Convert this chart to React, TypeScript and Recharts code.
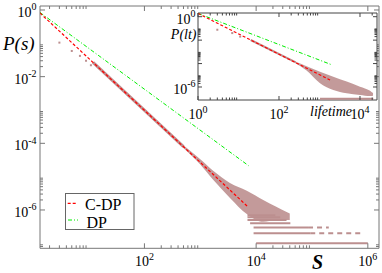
import React from 'react';
import { ComposedChart, Line, Area, Scatter, XAxis, YAxis, ReferenceArea } from 'recharts';

const FONT = '"Liberation Serif", "Times New Roman", Times, serif';
const W = 382;
const H = 273;

// ---------- main chart ticks ----------
const mainXMajor = [100, 10000, 1000000];
const mainXMajorLabels = ['2', '4', '6'];
const mainXMinor = [2, 3, 4, 5, 6, 7, 8, 9, 200, 300, 400, 500, 600, 700, 800, 900, 20000, 30000, 40000, 50000, 60000, 70000, 80000, 90000];
const mainYMajor = [1, 0.01, 0.0001, 0.000001];
const mainYMajorLabels = ['0', '-2', '-4', '-6'];
const mainYMinor = [0.02, 0.03, 0.04, 0.05, 0.06, 0.07, 0.08, 0.09, 0.0002, 0.0003, 0.0004, 0.0005, 0.0006, 0.0007, 0.0008, 0.0009, 0.000002, 0.000003, 0.000004, 0.000005, 0.000006, 0.000007, 0.000008, 0.000009, 0.00000008, 0.00000009];
const mainXDomain = [1.349, 1585000];
const mainYDomain = [7.08e-8, 1.318];

// ---------- main chart series ----------
const cdpMain = [{ x: 1.35, y: 0.81 }, { x: 7300, y: 1.2e-6 }];
const dpMain = [{ x: 1.35, y: 0.84 }, { x: 7300, y: 2.14e-5 }];
const rawMainOutliers = [{ x: 3, y: 0.105 }, { x: 5, y: 0.059 }, { x: 7, y: 0.042 }, { x: 9, y: 0.03 }, { x: 11, y: 0.022 }];
const rawMainThin = [{ x: 12, y: 0.0269 }, { x: 500, y: 8.0e-5 }];
const rawMainCloud = [
  { x: 480, y: [7.6e-5, 9.2e-5] },
  { x: 1000, y: [2.3e-5, 3.3e-5] },
  { x: 1700, y: [8.0e-6, 1.5e-5] },
  { x: 3400, y: [2.3e-6, 6.5e-6] },
  { x: 6800, y: [7.6e-7, 3.8e-6] },
  { x: 13400, y: [4.4e-7, 2.0e-6] },
  { x: 22000, y: [5.0e-7, 1.3e-6] },
  { x: 40000, y: [5.0e-7, 7.9e-7] },
];
const mainTailLevels = [1e-7, 2e-7, 3e-7, 4e-7, 5e-7, 6e-7, 7e-7];
const mainTailStart = [10000, 9000, 9000, 7800, 7000, 7000, 7000];
const mainTailEnd = [1000000, 93000, 85000, 41000, 35000, 27000, 22000];
const mainTailDashEnd = [0, 780000, 200000, 0, 0, 0, 0];

// ---------- inset ticks ----------
const insetXMajor = [1, 100, 10000];
const insetXMajorLabels = ['0', '2', '4'];
const insetXMinor = [2, 3, 4, 5, 6, 7, 8, 9, 200, 300, 400, 500, 600, 700, 800, 900, 20000];
const insetYMajor = [1, 0.01, 0.0001, 0.000001];
const insetYMajorLabels = ['0', '', '', '-6'];
const insetYMinor = [0.02, 0.03, 0.04, 0.05, 0.06, 0.07, 0.08, 0.09, 0.0002, 0.0003, 0.0004, 0.0005, 0.0006, 0.0007, 0.0008, 0.0009, 0.000002, 0.000003, 0.000004, 0.000005, 0.000006, 0.000007, 0.000008, 0.000009];
const insetXDomain = [1, 26300];
const insetYDomain = [7.76e-8, 2.07];

// ---------- inset series ----------
const cdpInset = [{ x: 1, y: 1.9 }, { x: 1820, y: 4.0e-6 }];
const dpInset = [{ x: 1, y: 1.9 }, { x: 2040, y: 7.7e-5 }];
const rawInsetOutliers = [{ x: 3, y: 0.077 }, { x: 7, y: 0.04 }, { x: 11, y: 0.02 }];
const rawInsetThin = [{ x: 20, y: 0.0103 }, { x: 260, y: 1.25e-4 }];
const rawInsetCloud = [
  { x: 250, y: [1.1e-4, 1.5e-4] },
  { x: 480, y: [2.5e-5, 6.0e-5] },
  { x: 1030, y: [2.1e-6, 2.0e-5] },
  { x: 2190, y: [5.5e-7, 7.6e-6] },
  { x: 4700, y: [2.9e-7, 2.9e-6] },
  { x: 10000, y: [2.1e-7, 1.07e-6] },
  { x: 17700, y: [1.7e-7, 4.8e-7] },
  { x: 21000, y: [1.8e-7, 3.0e-7] },
];
const insetTailLevel = 1e-7;
const insetTailStart = 1030;
const insetTailEnd = 21300;

const legendNames = ['C-DP', 'DP'];

const RAW = '#bc8f8f';
const RED = '#ff0000';
const GREEN = '#00ee00';

type TickCfg = {
  majors: number[];
  labels: string[];
  far: number;
  majorLen: number;
  minorLen: number;
  stroke: string;
  fontSize: number;
  supSize: number;
  supDy: number;
  labelDx: number;
  labelDy: number;
};

function makeXTick(cfg: TickCfg) {
  return (props: any) => {
    const { x, y, payload } = props;
    const mi = cfg.majors.indexOf(payload.value);
    const len = mi >= 0 ? cfg.majorLen : cfg.minorLen;
    return (
      <g>
        <line x1={x} x2={x} y1={y} y2={y - len} stroke={cfg.stroke} strokeWidth={1} />
        <line x1={x} x2={x} y1={cfg.far} y2={cfg.far + len} stroke={cfg.stroke} strokeWidth={1} />
        {mi >= 0 && cfg.labels[mi] ? (
          <text x={x + cfg.labelDx} y={y + cfg.labelDy} textAnchor="middle" fontFamily={FONT} fontSize={cfg.fontSize} fill="#000">
            10<tspan fontSize={cfg.supSize} dy={cfg.supDy}>{cfg.labels[mi]}</tspan>
          </text>
        ) : null}
      </g>
    );
  };
}

function makeYTick(cfg: TickCfg) {
  return (props: any) => {
    const { x, y, payload } = props;
    const mi = cfg.majors.indexOf(payload.value);
    const len = mi >= 0 ? cfg.majorLen : cfg.minorLen;
    return (
      <g>
        <line x1={x} x2={x + len} y1={y} y2={y} stroke={cfg.stroke} strokeWidth={1} />
        <line x1={cfg.far} x2={cfg.far - len} y1={y} y2={y} stroke={cfg.stroke} strokeWidth={1} />
        {mi >= 0 && cfg.labels[mi] ? (
          <text x={x + cfg.labelDx} y={y + cfg.labelDy} textAnchor="end" fontFamily={FONT} fontSize={cfg.fontSize} fill="#000">
            10<tspan fontSize={cfg.supSize} dy={cfg.supDy}>{cfg.labels[mi]}</tspan>
          </text>
        ) : null}
      </g>
    );
  };
}

const dot = (size: number) => (props: any) => {
  const { cx, cy } = props;
  if (cx == null || cy == null) return <g />;
  return <rect x={cx - size / 2} y={cy - size / 2} width={size} height={size} fill={RAW} />;
};

// plot geometry (axes occupy 1px, so margins are 1px smaller)
const M = { left: 39, top: 6, right: 3, bottom: 23.7 };
const I = { left: 197, top: 13, right: 5, bottom: 172 };
const MAIN_RIGHT = W - M.right;
const INSET_RIGHT = W - I.right;

export default function App() {
  const mainXTicks = [...mainXMinor, ...mainXMajor];
  const mainYTicks = [...mainYMinor, ...mainYMajor];
  const insetXTicks = [...insetXMinor, ...insetXMajor];
  const insetYTicks = [...insetYMinor, ...insetYMajor];

  const mainXTick = makeXTick({ majors: mainXMajor, labels: mainXMajorLabels, far: M.top, majorLen: 5, minorLen: 3, stroke: '#777', fontSize: 14, supSize: 10, supDy: -6, labelDx: 0, labelDy: 17.5 });
  const mainYTick = makeYTick({ majors: mainYMajor, labels: mainYMajorLabels, far: MAIN_RIGHT, majorLen: 5, minorLen: 3, stroke: '#777', fontSize: 14, supSize: 10, supDy: -6.5, labelDx: -3.5, labelDy: 7 });
  const insetXTick = makeXTick({ majors: insetXMajor, labels: insetXMajorLabels, far: I.top, majorLen: 4, minorLen: 2.5, stroke: '#444', fontSize: 14, supSize: 10, supDy: -6, labelDx: 0, labelDy: 18.5 });
  const insetYTick = makeYTick({ majors: insetYMajor, labels: insetYMajorLabels, far: INSET_RIGHT, majorLen: 4, minorLen: 2.5, stroke: '#444', fontSize: 14, supSize: 10, supDy: -6.5, labelDx: -2.5, labelDy: 7 });

  const mainTails = mainTailLevels.map((p, i) => [{ x: mainTailStart[i], y: p }, { x: mainTailEnd[i], y: p }]);
  const mainTailDashes = mainTailLevels
    .map((p, i) => (mainTailDashEnd[i] > 0 ? [{ x: mainTailEnd[i], y: p }, { x: mainTailDashEnd[i], y: p }] : null))
    .filter((d) => d !== null) as { x: number; y: number }[][];
  const insetTail = [{ x: insetTailStart, y: insetTailLevel }, { x: insetTailEnd, y: insetTailLevel }];

  return (
    <div style={{ position: 'absolute', left: 0, top: 0, width: W, height: H, background: '#fff', fontFamily: FONT }}>
      <div style={{ position: 'absolute', left: 0, top: 0 }}>
        <ComposedChart width={W} height={H} margin={M}>
          <XAxis dataKey="x" type="number" scale="log" domain={mainXDomain} allowDataOverflow ticks={mainXTicks} interval={0} tickSize={0} tickMargin={0} axisLine={false} tickLine={false} height={1} tick={mainXTick} />
          <YAxis type="number" scale="log" domain={mainYDomain} allowDataOverflow ticks={mainYTicks} interval={0} tickSize={0} tickMargin={0} axisLine={false} tickLine={false} width={1} tick={mainYTick} />
          <ReferenceArea x1={mainXDomain[0]} x2={mainXDomain[1]} y1={mainYDomain[0]} y2={mainYDomain[1]} fill="none" stroke="#777" strokeWidth={1} ifOverflow="visible" />
          <Area data={rawMainCloud} dataKey="y" type="monotone" stroke="none" fill={RAW} fillOpacity={0.9} isAnimationActive={false} />
          <Line data={rawMainThin} dataKey="y" stroke={RAW} strokeWidth={3} dot={false} isAnimationActive={false} />
          {mainTails.map((d, i) => (
            <Line key={'t' + i} data={d} dataKey="y" stroke={RAW} strokeWidth={2} dot={false} isAnimationActive={false} />
          ))}
          {mainTailDashes.map((d, i) => (
            <Line key={'td' + i} data={d} dataKey="y" stroke={RAW} strokeWidth={2} strokeDasharray="5 4" dot={false} isAnimationActive={false} />
          ))}
          <Scatter data={rawMainOutliers} dataKey="y" shape={dot(2)} isAnimationActive={false} />
          <Line data={dpMain} dataKey="y" stroke={GREEN} strokeWidth={1} strokeDasharray="4 2 1 2" dot={false} isAnimationActive={false} />
          <Line data={cdpMain} dataKey="y" stroke={RED} strokeWidth={1.2} strokeDasharray="3 2" dot={false} isAnimationActive={false} />
        </ComposedChart>
      </div>
      <div style={{ position: 'absolute', left: I.left + 1, top: I.top, width: INSET_RIGHT - I.left - 1, height: H - I.top - I.bottom - 1, background: '#fff' }} />
      <div style={{ position: 'absolute', left: 0, top: 0 }}>
        <ComposedChart width={W} height={H} margin={I}>
          <XAxis dataKey="x" type="number" scale="log" domain={insetXDomain} allowDataOverflow ticks={insetXTicks} interval={0} tickSize={0} tickMargin={0} axisLine={false} tickLine={false} height={1} tick={insetXTick} />
          <YAxis type="number" scale="log" domain={insetYDomain} allowDataOverflow ticks={insetYTicks} interval={0} tickSize={0} tickMargin={0} axisLine={false} tickLine={false} width={1} tick={insetYTick} />
          <ReferenceArea x1={insetXDomain[0]} x2={insetXDomain[1]} y1={insetYDomain[0]} y2={insetYDomain[1]} fill="none" stroke="#444" strokeWidth={1} ifOverflow="visible" />
          <Area data={rawInsetCloud} dataKey="y" type="monotone" stroke="none" fill={RAW} fillOpacity={0.9} isAnimationActive={false} />
          <Line data={rawInsetThin} dataKey="y" stroke={RAW} strokeWidth={2} dot={false} isAnimationActive={false} />
          <Line data={insetTail} dataKey="y" stroke={RAW} strokeWidth={2} dot={false} isAnimationActive={false} />
          <Scatter data={rawInsetOutliers} dataKey="y" shape={dot(2)} isAnimationActive={false} />
          <Line data={dpInset} dataKey="y" stroke={GREEN} strokeWidth={1} strokeDasharray="4 2 1 2" dot={false} isAnimationActive={false} />
          <Line data={cdpInset} dataKey="y" stroke={RED} strokeWidth={1.2} strokeDasharray="3 2" dot={false} isAnimationActive={false} />
        </ComposedChart>
      </div>
      <svg width={W} height={H} style={{ position: 'absolute', left: 0, top: 0, pointerEvents: 'none' }}>
        <text x={3} y={50} fontFamily={FONT} fontStyle="italic" fontSize={19} fill="#000">P(s)</text>
        <text x={312} y={269} fontFamily={FONT} fontStyle="italic" fontWeight="bold" fontSize={20} fill="#000">S</text>
        <text x={196.5} y={39} textAnchor="end" fontFamily={FONT} fontStyle="italic" fontSize={14} fill="#000">P(lt)</text>
        <text x={310} y={115.5} fontFamily={FONT} fontStyle="italic" fontSize={14} fill="#000">lifetime</text>
        <rect x={65.5} y={193.5} width={68.5} height={36} fill="#fff" stroke="#666" strokeWidth={1} />
        <line x1={67.7} x2={77.3} y1={203.3} y2={203.3} stroke={RED} strokeWidth={1.2} strokeDasharray="3 2" />
        <text x={85} y={209.5} fontFamily={FONT} fontSize={16} fill="#000">{legendNames[0]}</text>
        <line x1={68} x2={78} y1={220} y2={220} stroke={GREEN} strokeWidth={1} strokeDasharray="4 2 1 2" />
        <text x={86.5} y={227.5} fontFamily={FONT} fontSize={16} fill="#000">{legendNames[1]}</text>
      </svg>
    </div>
  );
}
